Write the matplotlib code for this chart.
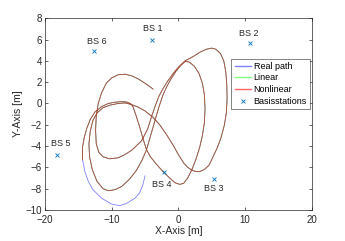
import numpy as np
import matplotlib.pyplot as plt

# Trajectory (m). The filters start after the first points.
real_x = [-5.0, -5.3, -5.8, -6.5, -7.8, -8.8, -10.0, -11.5, -12.8, -13.5, -14.0, -14.35,
          -14.35, -14.1, -13.7, -13.2, -12.5, -11.5, -10.5, -9.5, -8.5, -7.8, -7.2,
          -6.8, -6.3, -5.8, -5.3, -4.8, -4.2, -3.3, -2.3, -1.3, -0.5, 0.2, 0.8, 1.4,
          2.0, 2.6, 3.2, 3.6, 3.9, 4.0, 3.9, 3.6, 3.1, 2.4, 1.6, 1.0,
          0.3, -0.4, -1.2, -1.8, -2.3, -2.9, -3.5, -4.1, -4.8, -5.5, -6.3, -7.3,
          -8.5, -9.5, -10.5, -11.3, -12.2, -12.9, -13.3, -13.4, -13.2, -12.8, -12.2,
          -11.3, -10.2, -9.0, -8.0, -7.0, -6.0, -5.0, -3.8, -2.8, -1.8, -0.8, 0.0,
          0.8, 1.4, 2.0, 2.6, 3.2, 3.9, 4.6, 5.2, 5.8, 6.4, 6.9, 7.2, 7.3, 7.25,
          7.1, 6.8, 6.3, 5.6, 5.0, 4.2, 3.2, 2.2, 1.0, 0.0, -0.8, -1.6, -2.3, -2.9,
          -3.5, -4.0, -4.6, -5.5, -7.0, -8.0, -9.0, -10.3, -11.3, -11.9, -12.3,
          -12.4, -12.3, -12.0, -11.5, -10.8, -10.0, -9.0, -8.0, -7.0, -6.0, -5.0,
          -4.3, -3.8]
real_y = [-6.8, -7.6, -8.4, -8.9, -9.4, -9.6, -9.45, -8.9, -8.1, -7.3, -6.4, -5.3,
          -4.1, -3.2, -2.3, -1.5, -0.8, -0.3, 0.0, 0.12, 0.17, 0.15, 0.0,
          -0.3, -1.2, -2.2, -3.3, -4.3, -5.0, -5.7, -6.4, -7.0, -7.45, -7.6, -7.5, -7.0,
          -6.25, -5.3, -4.1, -3.0, -1.8, -0.5, 0.8, 1.9, 2.8, 3.5, 3.9, 3.95,
          3.55, 3.0, 2.2, 1.5, 0.8, -0.3, -1.6, -2.9, -4.4, -5.4, -6.3, -7.1,
          -7.8, -8.1, -8.2, -8.0, -7.3, -6.2, -5.0, -3.8, -2.6, -1.6, -0.9,
          -0.4, -0.15, 0.0, 0.05, -0.1, -0.35, -0.7, -1.3, -2.0, -2.9, -3.9, -4.8,
          -5.6, -6.0, -6.25, -6.4, -6.4, -6.2, -5.8, -5.0, -4.2, -3.2, -2.0, -0.8, 0.5, 1.8,
          3.0, 4.0, 4.7, 5.1, 5.2, 5.1, 4.8, 4.4, 4.0, 3.4, 2.8, 2.1, 1.4, 0.7,
          -0.3, -1.2, -2.4, -3.5, -4.4, -4.8, -5.1, -5.2, -5.0, -4.6, -3.8,
          -2.5, -1.2, 0.0, 1.0, 1.9, 2.4, 2.7, 2.75, 2.6, 2.3, 1.9,
          1.6, 1.35]

est_start = 11
lin_x, lin_y = real_x[est_start:], real_y[est_start:]
nonlin_x, nonlin_y = real_x[est_start:], real_y[est_start:]

bs_x = [-4.0, 10.7, 5.3, -2.2, -18.15, -12.65]
bs_y = [6.0, 5.7, -7.05, -6.4, -4.8, 4.95]
bs_names = ["BS 1", "BS 2", "BS 3", "BS 4", "BS 5", "BS 6"]
bs_label_dx = [0.2, -0.1, 0.0, -0.3, 0.6, 0.4]
bs_label_dy = [1.0, 0.9, -0.95, -1.2, 1.0, 0.85]

plt.rcParams["font.family"] = ["Liberation Sans", "DejaVu Sans"]
dark = "#262626"
fig = plt.figure(figsize=(3.45, 2.41), dpi=100)
ax = fig.add_axes([0.130, 0.129, 0.774, 0.795])

ax.plot(real_x, real_y, color=(0, 0, 1), alpha=0.5, lw=0.6, label="Real path")
ax.plot(lin_x, lin_y, color=(0, 1, 0), alpha=0.5, lw=0.6, label="Linear")
ax.plot(nonlin_x, nonlin_y, color=(1, 0, 0), alpha=0.6, lw=0.6, label="Nonlinear")
ax.plot(bs_x, bs_y, "x", color=(0, 0.447, 0.741), ms=3, mew=0.6,
        label="Basisstations")
for x, y, name, dx, dy in zip(bs_x, bs_y, bs_names, bs_label_dx, bs_label_dy):
    ax.text(x + dx, y + dy, name, ha="center", va="center", fontsize=6.5,
            color=dark)

ax.set_xlim(-20, 20)
ax.set_ylim(-10, 8)
ax.set_xticks(np.arange(-20, 21, 10))
ax.set_yticks(np.arange(-10, 9, 2))
ax.tick_params(direction="in", length=2.5, width=0.5, labelsize=7,
               colors=dark, top=True, right=True)
ax.tick_params(axis="x", pad=3.5)
ax.tick_params(axis="y", pad=2)
for s in ax.spines.values():
    s.set_linewidth(0.5)
    s.set_color(dark)
ax.set_xlabel("X-Axis [m]", fontsize=7.5, color=dark, labelpad=1)
ax.set_ylabel("Y-Axis [m]", fontsize=7.5, color=dark, labelpad=2)

leg = ax.legend(loc="upper right", bbox_to_anchor=(0.993, 0.79), fontsize=6.5,
                frameon=True, fancybox=False, handlelength=1.8, handletextpad=0.3,
                borderpad=0.35, labelspacing=0.3, borderaxespad=0)
leg.get_frame().set_edgecolor(dark)
leg.get_frame().set_linewidth(0.5)
for h in leg.get_lines():
    h.set_linewidth(1.0)

fig.savefig("out.png", dpi=100)
